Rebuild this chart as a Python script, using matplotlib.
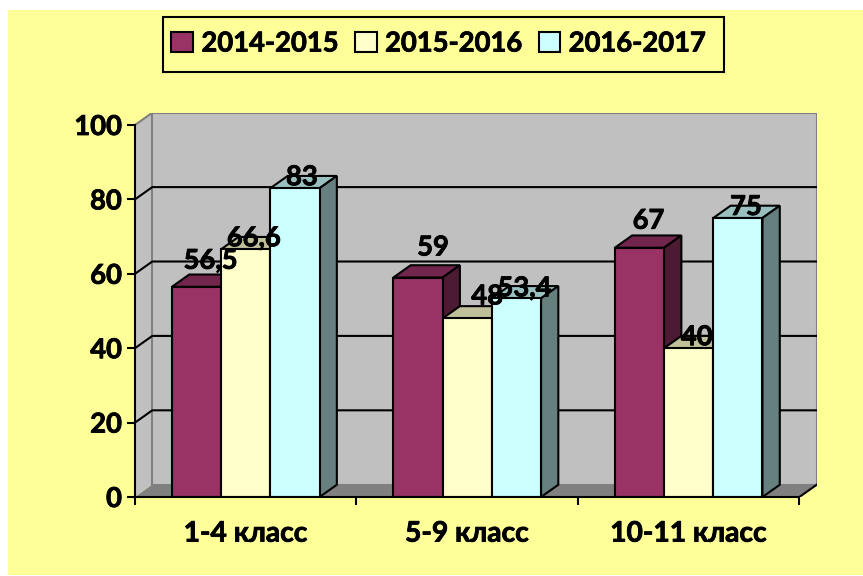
#!/usr/bin/env python3
# -*- coding: utf-8 -*-
"""Столбчатая диаграмма с псевдо-3D по классам и учебным годам"""

import matplotlib
matplotlib.use('Agg')
import matplotlib.pyplot as plt
import matplotlib.patheffects as pe
from matplotlib.colors import to_rgb
from matplotlib.patches import Polygon, Rectangle

plt.rcParams['font.family'] = ['Lato', 'Open Sans', 'DejaVu Sans']
plt.rcParams['font.weight'] = 'bold'

# данные
categories = ['1-4 класс', '5-9 класс', '10-11 класс']
years = ['2014-2015', '2015-2016', '2016-2017']
values_2014 = [56.5, 59, 67]
values_2015 = [66.6, 48, 40]
values_2016 = [83, 53.4, 75]
y_ticks = [0, 20, 40, 60, 80, 100]
colors = ['#993366', '#FFFFCC', '#CCFFFF']

# сдвиг подписей от центра верхней кромки столбца, пиксели
label_shift = [
    [(14, 26), (8, 11), (7, 11)],
    [(15, 30), (20, 22), (8, 10)],
    [(9, 27), (8, 11), (8, 11)],
]

W, H = 863, 576
FONT = 19.7
LW = 1.5
BAR = 1 / 4.5          # ширина столбца в долях категории
DX = 17.3 / 221.5      # глубина по x
DY = 3.3               # глубина по y
HEAVY = [pe.withStroke(linewidth=0.6, foreground='black')]


def shade(color, k):
    return tuple(c * k for c in to_rgb(color))


fig = plt.figure(figsize=(W / 100, H / 100), dpi=100, facecolor='white')
fig.add_artist(Rectangle((8 / W, 1 / H), 1, 565 / H, transform=fig.transFigure,
                         facecolor='#FFFF99', edgecolor='none', zorder=-5))
# рамка легенды
fig.add_artist(Rectangle((163 / W, (H - 72) / H), 561 / W, 55 / H, transform=fig.transFigure,
                         facecolor='none', edgecolor='black', linewidth=LW, zorder=-4))

ax = fig.add_axes([135 / W, (H - 497) / H, 681.7 / W, 384.3 / H])
ax.patch.set_visible(False)
ax.set_xlim(-0.5, 2.5 + DX)
ax.set_ylim(0, 100 + DY)
x0, x1 = -0.5, 2.5
top = y_ticks[-1]

# стенки и пол
ax.add_patch(Polygon([(x0, 0), (x0 + DX, DY), (x0 + DX, top + DY), (x0, top)],
                     facecolor='#C0C0C0', edgecolor='none', zorder=1))
ax.add_patch(Rectangle((x0 + DX, DY), x1 - x0, top, facecolor='#C0C0C0',
                       edgecolor='#808080', linewidth=LW, zorder=1))
ax.add_patch(Polygon([(x0, 0), (x1, 0), (x1 + DX, DY), (x0 + DX, DY)],
                     facecolor='#808080', edgecolor='none', zorder=1.5))

# сетка на стенках
for t in y_ticks[1:-1]:
    ax.plot([x0, x0 + DX, x1 + DX], [t, t + DY, t + DY], color='black', lw=LW, zorder=2)
ax.plot([x0, x0 + DX], [top, top + DY], color='#808080', lw=LW, zorder=2)
ax.plot([x1, x1 + DX], [0, DY], color='black', lw=LW, zorder=2)

# столбцы
series = [values_2014, values_2015, values_2016]
handles = []
for c in range(len(categories)):
    for s, vals in enumerate(series):
        v = vals[c]
        left = c - 1.5 * BAR + s * BAR
        right = left + BAR
        z = 3 + c + s * 0.1
        ax.add_patch(Polygon([(left, v), (right, v), (right + DX, v + DY), (left + DX, v + DY)],
                             facecolor=shade(colors[s], 0.75), edgecolor='black',
                             linewidth=LW, zorder=z))
        ax.add_patch(Polygon([(right, 0), (right + DX, DY), (right + DX, v + DY), (right, v)],
                             facecolor=shade(colors[s], 0.5), edgecolor='black',
                             linewidth=LW, zorder=z))
        b = ax.bar(left, v, BAR, align='edge', color=colors[s], edgecolor='black',
                   linewidth=LW, zorder=z + 0.01)
        if c == 0:
            handles.append(b[0])
        sx, sy = label_shift[c][s]
        ax.annotate(f'{v:g}'.replace('.', ','), (left + BAR / 2, v), xytext=(sx, sy),
                    textcoords='offset pixels', ha='center', va='center',
                    fontsize=FONT, color='black', zorder=20, path_effects=HEAVY)

# оси
for name in ('top', 'right'):
    ax.spines[name].set_visible(False)
for name in ('left', 'bottom'):
    ax.spines[name].set_linewidth(LW)
    ax.spines[name].set_zorder(15)
ax.spines['left'].set_bounds(0, top)
ax.spines['bottom'].set_bounds(x0, x1)

ax.set_yticks(y_ticks)
ax.set_yticklabels([str(t) for t in y_ticks], fontsize=FONT, path_effects=HEAVY)
ax.tick_params(axis='y', length=5.5, width=LW, pad=4)
ax.set_xticks([-0.5, 0.5, 1.5, 2.5])
ax.set_xticklabels([])
ax.tick_params(axis='x', which='major', length=5.5, width=LW)
ax.set_xticks(range(len(categories)), minor=True)
ax.set_xticklabels(categories, minor=True, fontsize=20.3, path_effects=HEAVY)
ax.tick_params(axis='x', which='minor', length=0, pad=17)

# легенда
leg = fig.legend(handles, years, ncol=3, loc='center',
                 bbox_to_anchor=(438.5 / W, (H - 43.5) / H),
                 fontsize=FONT, frameon=False, handlelength=0.8,
                 handleheight=0.8, handletextpad=0.3, columnspacing=0.6,
                 borderpad=0.3)
for t in leg.get_texts():
    t.set_path_effects(HEAVY)

fig.savefig('out.png', dpi=100, facecolor='white')
